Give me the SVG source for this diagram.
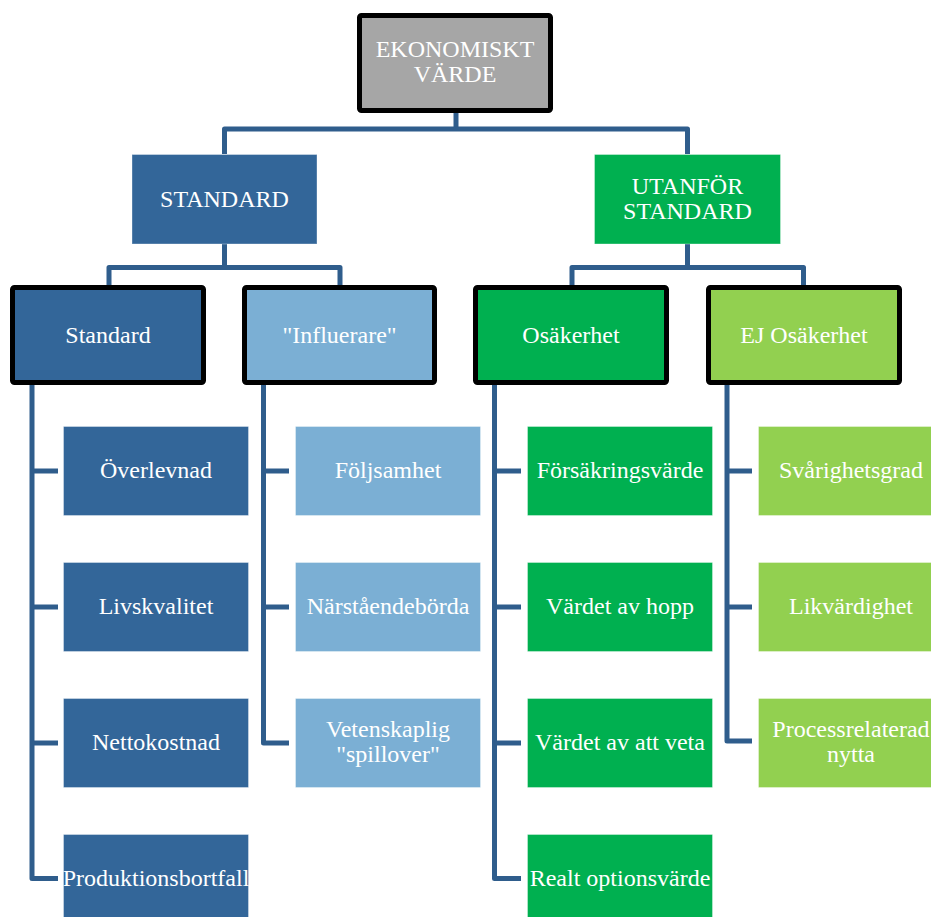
<svg xmlns="http://www.w3.org/2000/svg" width="931" height="917" viewBox="0 0 931 917">
  <style>
    .lbl { font-family: "Liberation Serif", "Times New Roman", serif; font-size: 24px; fill: #ffffff; text-anchor: middle; }
    .conn { fill: none; stroke: #2f5d8c; stroke-width: 5; stroke-linejoin: round; stroke-linecap: butt; }
    .framed { stroke: #000000; stroke-width: 5; }
    .flat { stroke: #ffffff; stroke-opacity: 0.35; stroke-width: 1; }
    .dblue { fill: #336699; }
    .lblue { fill: #7bafd4; }
    .green { fill: #00b050; }
    .lgreen { fill: #92d050; }
    .grey { fill: #a6a6a6; }
  </style>

  <!-- connectors -->
  <g id="connectors" class="conn">
    <!-- root to second level -->
    <path d="M456,113 V129"/>
    <path d="M224.5,154 V129 H687.5 V154"/>
    <!-- STANDARD to its children -->
    <path d="M224.5,244 V267.5"/>
    <path d="M109,285 V267.5 H340 V285"/>
    <!-- UTANFÖR STANDARD to its children -->
    <path d="M687.5,244 V267.5"/>
    <path d="M572,285 V267.5 H803.5 V285"/>
    <!-- Standard spine -->
    <path d="M32,385 V878.5 H58"/>
    <path d="M32,471 H58"/>
    <path d="M32,607 H58"/>
    <path d="M32,743 H58"/>
    <!-- Influerare spine -->
    <path d="M263.5,385 V743 H289"/>
    <path d="M263.5,471 H289"/>
    <path d="M263.5,607 H289"/>
    <!-- Osäkerhet spine -->
    <path d="M494.5,385 V878.5 H521"/>
    <path d="M494.5,471 H521"/>
    <path d="M494.5,607 H521"/>
    <path d="M494.5,743 H521"/>
    <!-- EJ Osäkerhet spine -->
    <path d="M727,385 V741 H752"/>
    <path d="M727,471 H752"/>
    <path d="M727,607 H752"/>
  </g>

  <!-- root -->
  <g id="ekonomiskt-varde">
    <rect class="grey framed" x="359.5" y="15.5" width="191" height="95" rx="2"/>
    <text class="lbl" x="455" y="57">EKONOMISKT</text>
    <text class="lbl" x="455" y="82">VÄRDE</text>
  </g>

  <!-- second level -->
  <g id="standard-top">
    <rect class="dblue flat" x="132" y="154.5" width="185" height="89.5"/>
    <text class="lbl" x="224.5" y="207">STANDARD</text>
  </g>
  <g id="utanfor-standard">
    <rect class="green flat" x="594.5" y="154.5" width="186" height="89.5"/>
    <text class="lbl" x="687.5" y="194">UTANFÖR</text>
    <text class="lbl" x="687.5" y="218.5">STANDARD</text>
  </g>

  <!-- third level -->
  <g id="standard">
    <rect class="dblue framed" x="12.5" y="287.5" width="191" height="95" rx="2"/>
    <text class="lbl" x="108" y="343">Standard</text>
  </g>
  <g id="influerare">
    <rect class="lblue framed" x="244.5" y="287.5" width="190" height="95" rx="2"/>
    <text class="lbl" x="339.5" y="343">"Influerare"</text>
  </g>
  <g id="osakerhet">
    <rect class="green framed" x="475.5" y="287.5" width="191" height="95" rx="2"/>
    <text class="lbl" x="571" y="343">Osäkerhet</text>
  </g>
  <g id="ej-osakerhet">
    <rect class="lgreen framed" x="708.5" y="287.5" width="191" height="95" rx="2"/>
    <text class="lbl" x="804" y="343">EJ Osäkerhet</text>
  </g>

  <!-- leaves: Standard -->
  <g id="overlevnad">
    <rect class="dblue flat" x="63.5" y="426.5" width="185" height="89"/>
    <text class="lbl" x="156" y="478">Överlevnad</text>
  </g>
  <g id="livskvalitet">
    <rect class="dblue flat" x="63.5" y="562.5" width="185" height="89"/>
    <text class="lbl" x="156" y="614">Livskvalitet</text>
  </g>
  <g id="nettokostnad">
    <rect class="dblue flat" x="63.5" y="698.5" width="185" height="89"/>
    <text class="lbl" x="156" y="750">Nettokostnad</text>
  </g>
  <g id="produktionsbortfall">
    <rect class="dblue flat" x="63.5" y="834.5" width="185" height="89"/>
    <text class="lbl" x="156" y="886">Produktionsbortfall</text>
  </g>

  <!-- leaves: Influerare -->
  <g id="foljsamhet">
    <rect class="lblue flat" x="295.5" y="426.5" width="185" height="89"/>
    <text class="lbl" x="388" y="478">Följsamhet</text>
  </g>
  <g id="narstaendeborda">
    <rect class="lblue flat" x="295.5" y="562.5" width="185" height="89"/>
    <text class="lbl" x="388" y="614">Närståendebörda</text>
  </g>
  <g id="vetenskaplig-spillover">
    <rect class="lblue flat" x="295.5" y="698.5" width="185" height="89"/>
    <text class="lbl" x="388" y="737">Vetenskaplig</text>
    <text class="lbl" x="388" y="762">"spillover"</text>
  </g>

  <!-- leaves: Osäkerhet -->
  <g id="forsakringsvarde">
    <rect class="green flat" x="527.5" y="426.5" width="185" height="89"/>
    <text class="lbl" x="620" y="478">Försäkringsvärde</text>
  </g>
  <g id="vardet-av-hopp">
    <rect class="green flat" x="527.5" y="562.5" width="185" height="89"/>
    <text class="lbl" x="620" y="614">Värdet av hopp</text>
  </g>
  <g id="vardet-av-att-veta">
    <rect class="green flat" x="527.5" y="698.5" width="185" height="89"/>
    <text class="lbl" x="620" y="750">Värdet av att veta</text>
  </g>
  <g id="realt-optionsvarde">
    <rect class="green flat" x="527.5" y="834.5" width="185" height="89"/>
    <text class="lbl" x="620" y="886">Realt optionsvärde</text>
  </g>

  <!-- leaves: EJ Osäkerhet -->
  <g id="svarighetsgrad">
    <rect class="lgreen flat" x="758.5" y="426.5" width="185" height="89"/>
    <text class="lbl" x="851" y="478">Svårighetsgrad</text>
  </g>
  <g id="likvardighet">
    <rect class="lgreen flat" x="758.5" y="562.5" width="185" height="89"/>
    <text class="lbl" x="851" y="614">Likvärdighet</text>
  </g>
  <g id="processrelaterad-nytta">
    <rect class="lgreen flat" x="758.5" y="698.5" width="185" height="89"/>
    <text class="lbl" x="851" y="737">Processrelaterad</text>
    <text class="lbl" x="851" y="762">nytta</text>
  </g>
</svg>
